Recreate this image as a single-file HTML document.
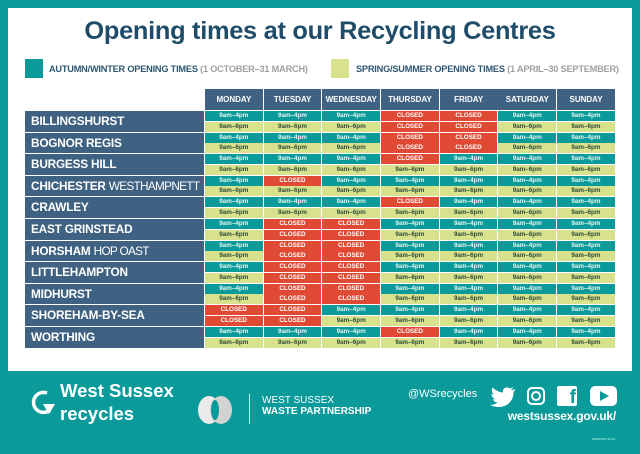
<!DOCTYPE html><html><head><meta charset="utf-8"><style>
body{margin:0;width:640px;height:454px;background:#0b9a9a;position:relative;overflow:hidden;font-family:"Liberation Sans",sans-serif}
.panel{position:absolute;left:8px;top:8px;width:624px;height:363px;background:#fff}
h1{position:absolute;left:0;width:640px;top:17px;margin:0;text-align:center;font-size:25.4px;font-weight:bold;color:#1e4c69;letter-spacing:-0.3px}
.sq{position:absolute;width:18px;height:19px}
.lg{position:absolute;font-size:9.2px;font-weight:bold;color:#2f5670;top:64px;letter-spacing:-0.2px;white-space:nowrap}
.lg span{color:#a0a0a0}
.hd{position:absolute;top:89px;left:205px;display:grid;grid-template-columns:repeat(7,57.8px);column-gap:0.9px}
.hd div{background:#3f6182;color:#fff;font-size:8px;font-weight:bold;height:21px;line-height:21px;text-align:center}
.loc{position:absolute;left:25px;display:grid;grid-template-columns:179px repeat(7,57.8px);grid-template-rows:10px 10px;column-gap:0.9px;row-gap:0.6px}
.nm{grid-row:1/3;background:#3f6182;color:#fff;font-weight:bold;font-size:11.8px;line-height:21px;padding-left:6px;white-space:nowrap;letter-spacing:-0.2px;overflow:hidden}
.nm span{font-weight:normal;letter-spacing:-0.7px}
.c{font-size:6.3px;font-weight:bold;text-align:center;line-height:10px}
.a{background:#0b9a9a;color:#e6f6f0}
.b{background:#d8e28c;color:#2c4a3a}
.x{background:#e04a34;color:#fff}
.f{position:absolute;color:#fff;white-space:nowrap}
</style></head><body>
<div class="panel"></div>
<h1>Opening times at our Recycling Centres</h1>
<div class="sq" style="left:25px;top:59px;background:#0b9a9a"></div>
<div class="lg" style="left:49px">AUTUMN/WINTER OPENING TIMES <span>(1 OCTOBER–31 MARCH)</span></div>
<div class="sq" style="left:331px;top:59px;background:#d8e28c"></div>
<div class="lg" style="left:356px">SPRING/SUMMER OPENING TIMES <span>(1 APRIL–30 SEPTEMBER)</span></div>
<div class="hd"><div>MONDAY</div><div>TUESDAY</div><div>WEDNESDAY</div><div>THURSDAY</div><div>FRIDAY</div><div>SATURDAY</div><div>SUNDAY</div></div>

<div class="loc" style="top:111px"><div class="nm">BILLINGSHURST</div>
<div class="c a">9am–4pm</div><div class="c a">9am–4pm</div><div class="c a">9am–4pm</div><div class="c x">CLOSED</div><div class="c x">CLOSED</div><div class="c a">9am–4pm</div><div class="c a">9am–4pm</div>
<div class="c b">9am–6pm</div><div class="c b">9am–6pm</div><div class="c b">9am–6pm</div><div class="c x">CLOSED</div><div class="c x">CLOSED</div><div class="c b">9am–6pm</div><div class="c b">9am–6pm</div></div>

<div class="loc" style="top:132.6px"><div class="nm">BOGNOR REGIS</div>
<div class="c a">9am–4pm</div><div class="c a">9am–4pm</div><div class="c a">9am–4pm</div><div class="c x">CLOSED</div><div class="c x">CLOSED</div><div class="c a">9am–4pm</div><div class="c a">9am–4pm</div>
<div class="c b">9am–6pm</div><div class="c b">9am–6pm</div><div class="c b">9am–6pm</div><div class="c x">CLOSED</div><div class="c x">CLOSED</div><div class="c b">9am–6pm</div><div class="c b">9am–6pm</div></div>

<div class="loc" style="top:154.2px"><div class="nm">BURGESS HILL</div>
<div class="c a">9am–4pm</div><div class="c a">9am–4pm</div><div class="c a">9am–4pm</div><div class="c x">CLOSED</div><div class="c a">9am–4pm</div><div class="c a">9am–4pm</div><div class="c a">9am–4pm</div>
<div class="c b">9am–6pm</div><div class="c b">9am–6pm</div><div class="c b">9am–6pm</div><div class="c b">9am–6pm</div><div class="c b">9am–6pm</div><div class="c b">9am–6pm</div><div class="c b">9am–6pm</div></div>

<div class="loc" style="top:175.8px"><div class="nm">CHICHESTER <span>WESTHAMPNETT</span></div>
<div class="c a">9am–4pm</div><div class="c x">CLOSED</div><div class="c a">9am–4pm</div><div class="c a">9am–4pm</div><div class="c a">9am–4pm</div><div class="c a">9am–4pm</div><div class="c a">9am–4pm</div>
<div class="c b">9am–6pm</div><div class="c b">9am–6pm</div><div class="c b">9am–6pm</div><div class="c b">9am–6pm</div><div class="c b">9am–6pm</div><div class="c b">9am–6pm</div><div class="c b">9am–6pm</div></div>

<div class="loc" style="top:197.4px"><div class="nm">CRAWLEY</div>
<div class="c a">9am–4pm</div><div class="c a">9am–4pm</div><div class="c a">9am–4pm</div><div class="c x">CLOSED</div><div class="c a">9am–4pm</div><div class="c a">9am–4pm</div><div class="c a">9am–4pm</div>
<div class="c b">9am–6pm</div><div class="c b">9am–6pm</div><div class="c b">9am–6pm</div><div class="c b">9am–6pm</div><div class="c b">9am–6pm</div><div class="c b">9am–6pm</div><div class="c b">9am–6pm</div></div>

<div class="loc" style="top:219px"><div class="nm">EAST GRINSTEAD</div>
<div class="c a">9am–4pm</div><div class="c x">CLOSED</div><div class="c x">CLOSED</div><div class="c a">9am–4pm</div><div class="c a">9am–4pm</div><div class="c a">9am–4pm</div><div class="c a">9am–4pm</div>
<div class="c b">9am–6pm</div><div class="c x">CLOSED</div><div class="c x">CLOSED</div><div class="c b">9am–6pm</div><div class="c b">9am–6pm</div><div class="c b">9am–6pm</div><div class="c b">9am–6pm</div></div>

<div class="loc" style="top:240.6px"><div class="nm">HORSHAM <span>HOP OAST</span></div>
<div class="c a">9am–4pm</div><div class="c x">CLOSED</div><div class="c x">CLOSED</div><div class="c a">9am–4pm</div><div class="c a">9am–4pm</div><div class="c a">9am–4pm</div><div class="c a">9am–4pm</div>
<div class="c b">9am–6pm</div><div class="c x">CLOSED</div><div class="c x">CLOSED</div><div class="c b">9am–6pm</div><div class="c b">9am–6pm</div><div class="c b">9am–6pm</div><div class="c b">9am–6pm</div></div>

<div class="loc" style="top:262.2px"><div class="nm">LITTLEHAMPTON</div>
<div class="c a">9am–4pm</div><div class="c x">CLOSED</div><div class="c x">CLOSED</div><div class="c a">9am–4pm</div><div class="c a">9am–4pm</div><div class="c a">9am–4pm</div><div class="c a">9am–4pm</div>
<div class="c b">9am–6pm</div><div class="c x">CLOSED</div><div class="c x">CLOSED</div><div class="c b">9am–6pm</div><div class="c b">9am–6pm</div><div class="c b">9am–6pm</div><div class="c b">9am–6pm</div></div>

<div class="loc" style="top:283.8px"><div class="nm">MIDHURST</div>
<div class="c a">9am–4pm</div><div class="c x">CLOSED</div><div class="c x">CLOSED</div><div class="c a">9am–4pm</div><div class="c a">9am–4pm</div><div class="c a">9am–4pm</div><div class="c a">9am–4pm</div>
<div class="c b">9am–6pm</div><div class="c x">CLOSED</div><div class="c x">CLOSED</div><div class="c b">9am–6pm</div><div class="c b">9am–6pm</div><div class="c b">9am–6pm</div><div class="c b">9am–6pm</div></div>

<div class="loc" style="top:305.4px"><div class="nm">SHOREHAM-BY-SEA</div>
<div class="c x">CLOSED</div><div class="c x">CLOSED</div><div class="c a">9am–4pm</div><div class="c a">9am–4pm</div><div class="c a">9am–4pm</div><div class="c a">9am–4pm</div><div class="c a">9am–4pm</div>
<div class="c x">CLOSED</div><div class="c x">CLOSED</div><div class="c b">9am–6pm</div><div class="c b">9am–6pm</div><div class="c b">9am–6pm</div><div class="c b">9am–6pm</div><div class="c b">9am–6pm</div></div>

<div class="loc" style="top:327px"><div class="nm">WORTHING</div>
<div class="c a">9am–4pm</div><div class="c a">9am–4pm</div><div class="c a">9am–4pm</div><div class="c x">CLOSED</div><div class="c a">9am–4pm</div><div class="c a">9am–4pm</div><div class="c a">9am–4pm</div>
<div class="c b">9am–6pm</div><div class="c b">9am–6pm</div><div class="c b">9am–6pm</div><div class="c b">9am–6pm</div><div class="c b">9am–6pm</div><div class="c b">9am–6pm</div><div class="c b">9am–6pm</div></div>

<!-- footer -->
<svg style="position:absolute;left:30px;top:388px" width="28" height="32" viewBox="0 0 28 32"><path d="M17 5 A10 10 0 1 0 20 22" fill="none" stroke="#fff" stroke-width="3.5"/><path d="M13 16 L25 16 L19 26 Z" fill="#fff"/></svg>
<div class="f" style="left:60px;top:380px;font-size:18.5px;font-weight:bold">West Sussex</div>
<div class="f" style="left:60px;top:403px;font-size:18.5px;font-weight:bold">recycles</div>
<svg style="position:absolute;left:197px;top:394px" width="36" height="32"><ellipse cx="12" cy="16" rx="11" ry="14" fill="#eaeaea"/><ellipse cx="24" cy="16" rx="11" ry="14" fill="#d2d2d2"/><ellipse cx="18" cy="16" rx="4" ry="10" fill="#0b9a9a"/></svg>
<div style="position:absolute;left:249px;top:394px;width:1px;height:30px;background:#cfe"></div>
<div class="f" style="left:262px;top:395px;font-size:10px">WEST SUSSEX</div>
<div class="f" style="left:262px;top:406px;font-size:10px;font-weight:bold">WASTE PARTNERSHIP</div>
<div class="f" style="left:408px;top:388px;font-size:11px">@WSrecycles</div>
<svg style="position:absolute;left:490px;top:387px" width="26" height="20" viewBox="0 0 26 20"><path d="M25 2 C23 3 22 3 21 3 C22 2 23 1 23 0 C22 1 21 1 20 1.5 C17 -1 12 1 13 5.5 C9 5.3 5 3 2.5 0.5 C1 3 2 6 4 7.5 C3 7.5 2 7 1.5 7 C1.5 9.5 3 11.5 5.5 12 C4.5 12.3 3.7 12.3 3 12.2 C3.6 14.2 5.5 15.6 7.6 15.6 C5.5 17.3 3 18 0 17.8 C11 24 24 17 23.5 5 C24.3 4.3 25 3.2 25 2Z" fill="#fff"/></svg>
<div style="position:absolute;left:527px;top:387px;width:14px;height:14px;border:2.5px solid #fff;border-radius:5px"></div>
<div style="position:absolute;left:531px;top:391px;width:6px;height:6px;border:2px solid #fff;border-radius:50%"></div>
<div style="position:absolute;left:557px;top:386px;width:20px;height:20px;background:#fff;border-radius:2px;color:#0b9a9a;font-weight:bold;font-size:19px;line-height:23px;text-align:right;padding-right:1px;box-sizing:border-box">f</div>
<div style="position:absolute;left:590px;top:386px;width:27px;height:20px;background:#fff;border-radius:5px"></div>
<div style="position:absolute;left:600px;top:391px;width:0;height:0;border-left:9px solid #0b9a9a;border-top:5px solid transparent;border-bottom:5px solid transparent"></div>
<div class="f" style="right:24px;top:409px;font-size:12px;font-weight:bold;letter-spacing:-0.2px">westsussex.gov.uk/</div>
<div class="f" style="right:25px;top:437px;font-size:3px;color:#bfe">WS031367/10.24</div>
</body></html>
